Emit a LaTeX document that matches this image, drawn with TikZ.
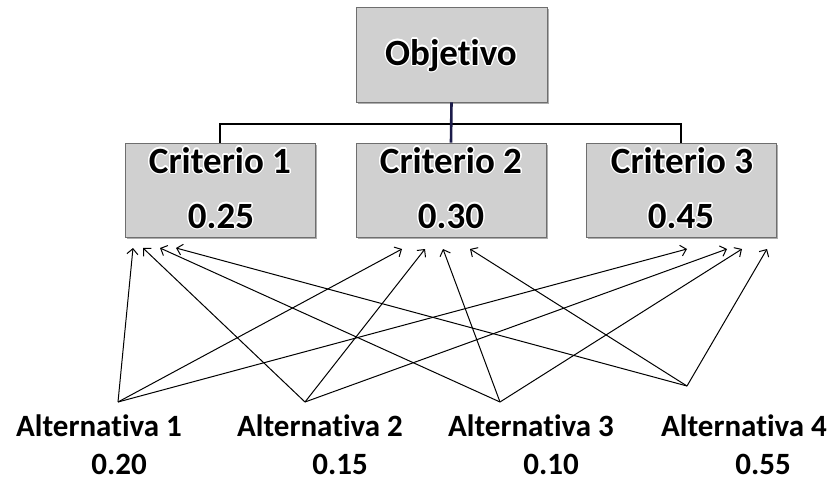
\documentclass[tikz,border=0pt]{standalone}
\usepackage{fontspec}
\setmainfont{Carlito}[Ligatures={NoCommon}]
\usepackage{contour}
\contourlength{1.4pt}
\usetikzlibrary{arrows.meta,shadows}
\definecolor{boxfill}{HTML}{D0D0D0}
\definecolor{boxline}{HTML}{6E6E6E}
\definecolor{stem}{HTML}{1C1C4A}
\begin{document}
\begin{tikzpicture}[x=1pt,y=-1pt,
  boxnode/.style={draw=boxline, line width=0.8pt, fill=boxfill,
    minimum width=190pt, minimum height=94pt, inner sep=0pt,
    drop shadow={shadow xshift=1.5pt, shadow yshift=-1.5pt, opacity=0.45, fill=black!70}},
  boxtext/.style={anchor=base, inner sep=0pt, font=\fontsize{37}{44}\selectfont\bfseries},
  alttext/.style={anchor=base, inner sep=0pt, font=\fontsize{31}{37}\selectfont\bfseries},
  tree/.style={line width=2.6pt},
  link/.style={line width=1pt, -{Straight Barb[length=5.5pt,width=11pt]}},
]
\useasboundingbox (0,0) rectangle (831,479);

% goal and criteria boxes
\node[boxnode, minimum width=191pt, minimum height=95pt] (obj) at (451.5,54.5) {};
\node[boxnode] (c1) at (220,190) {};
\node[boxnode] (c2) at (451,190) {};
\node[boxnode] (c3) at (681,190) {};

% hierarchy connectors
\coordinate (bar) at (451,124);
\draw[tree] (c1.north) |- (bar) -| (c3.north);
\draw[tree, stem] (obj.south) -- (c2.north);

% box texts, with a white halo
\node[boxtext] (objt) at (451,65) {\contour{white}{Objetivo}};
\node[boxtext] (c1t) at (220,173) {\contour{white}{Criterio 1}};
\node[boxtext] (c1v) at (221,228) {\contour{white}{0.25}};
\node[boxtext] (c2t) at (451,173) {\contour{white}{Criterio 2}};
\node[boxtext] (c2v) at (451,228) {\contour{white}{0.30}};
\node[boxtext] (c3t) at (682,173) {\contour{white}{Criterio 3}};
\node[boxtext] (c3v) at (681,228) {\contour{white}{0.45}};

% alternatives
\node[alttext] (a1) at (99,436) {Alternativa 1};
\node[alttext] (a1v) at (119,474) {0.20};
\node[alttext] (a2) at (320,436) {Alternativa 2};
\node[alttext] (a2v) at (340,474) {0.15};
\node[alttext] (a3) at (531,436) {Alternativa 3};
\node[alttext] (a3v) at (551,474) {0.10};
\node[alttext] (a4) at (744,436) {Alternativa 4};
\node[alttext] (a4v) at (763,474) {0.55};

% starting points of the links above each alternative
\coordinate (p1) at (118,402);
\coordinate (p2) at (305,402);
\coordinate (p3) at (500,402);
\coordinate (p4) at (687,386);

% arrow tips under each criterion (t<alternative><criterion>)
\coordinate (t11) at (133,248);
\coordinate (t21) at (143,248);
\coordinate (t31) at (160,248);
\coordinate (t41) at (176,248);
\coordinate (t12) at (402,249);
\coordinate (t22) at (425,249);
\coordinate (t32) at (443,249);
\coordinate (t42) at (470,249);
\coordinate (t13) at (687,249);
\coordinate (t23) at (727,249);
\coordinate (t33) at (742,249);
\coordinate (t43) at (767,249);

\foreach \a in {1,2,3,4}{
  \foreach \c in {1,2,3}{
    \draw[link] (p\a) -- (t\a\c);
  }
}
\end{tikzpicture}
\end{document}
